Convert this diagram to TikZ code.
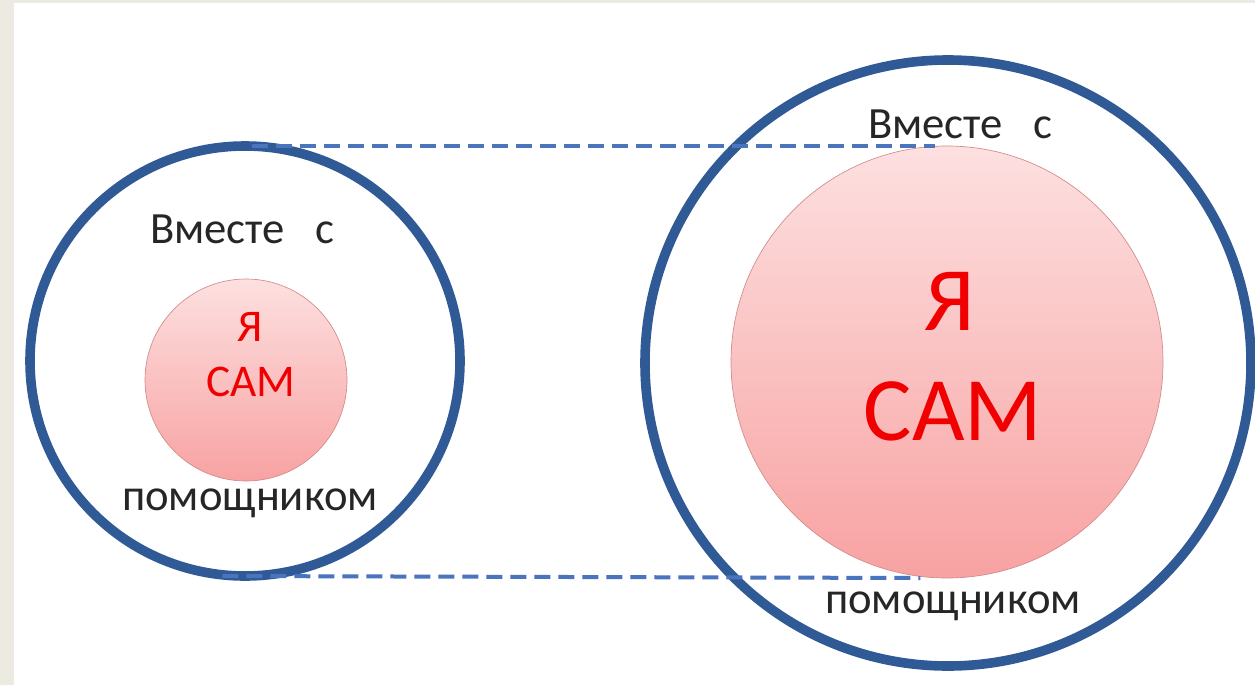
\documentclass[tikz,border=0pt]{standalone}
\usepackage{fontspec}
\setmainfont{Carlito}
\definecolor{ringblue}{HTML}{2F5A96}
\definecolor{dashblue}{HTML}{4A74BE}
\definecolor{pinktop}{HTML}{FDE0E0}
\definecolor{pinkbot}{HTML}{F8A2A2}
\definecolor{pinkedge}{HTML}{D38A8A}
\definecolor{strip}{HTML}{ECEAE1}
\definecolor{redtxt}{HTML}{F00000}
\begin{document}
\begin{tikzpicture}[x=0.75pt,y=-0.75pt,
  ring/.style={circle,draw=ringblue,line width=7.2pt,inner sep=0pt,outer sep=0pt},
  ball/.style={circle,draw=pinkedge,line width=0.5pt,top color=pinktop,bottom color=pinkbot,inner sep=0pt,outer sep=0pt},
  guide/.style={draw=dashblue,line width=3pt,dash pattern=on 12pt off 6pt},
  lbl/.style={anchor=base,inner sep=0pt,font=\fontsize{33.5}{40}\selectfont,text=black!85},
  red/.style={anchor=base,inner sep=0pt,text=redtxt}]
\useasboundingbox (0,0) rectangle (1255,685);
\fill[white] (0,0) rectangle (1255,685);
\fill[strip] (0,0) rectangle (14,685);
\fill[strip] (0,0) rectangle (1255,3);
% rings
\node[ring,minimum size=322.5pt] (L) at (245,361) {};
\node[ring,minimum size=454.5pt] (R) at (948,363) {};
% pink balls
\node[ball,minimum size=151.5pt] (s) at (246,380) {};
\node[ball,minimum size=324pt] (b) at (947,362) {};
% dashed guides
\draw[guide] ([xshift=5pt]L.north) -- ([xshift=-9pt]b.north);
\draw[guide] ([xshift=-17pt]L.south) -- ([xshift=-20pt]b.south);
% labels
\node[lbl] (lt) at (242,243) {Вместе\ \ \ с};
\node[lbl] (lb) at (250,510) {помощником};
\node[lbl] (rt) at (960,138) {Вместе\ \ \ с};
\node[lbl] (rb) at (953,613) {помощником};
\node[red,font=\fontsize{34}{40}\selectfont] (s1) at (250,341) {Я};
\node[red,font=\fontsize{34}{40}\selectfont] (s2) at (251,396) {САМ};
\node[red,font=\fontsize{68}{78}\selectfont] (b1) at (950,330) {Я};
\node[red,font=\fontsize{68}{78}\selectfont] (b2) at (953,440) {САМ};
\end{tikzpicture}
\end{document}
